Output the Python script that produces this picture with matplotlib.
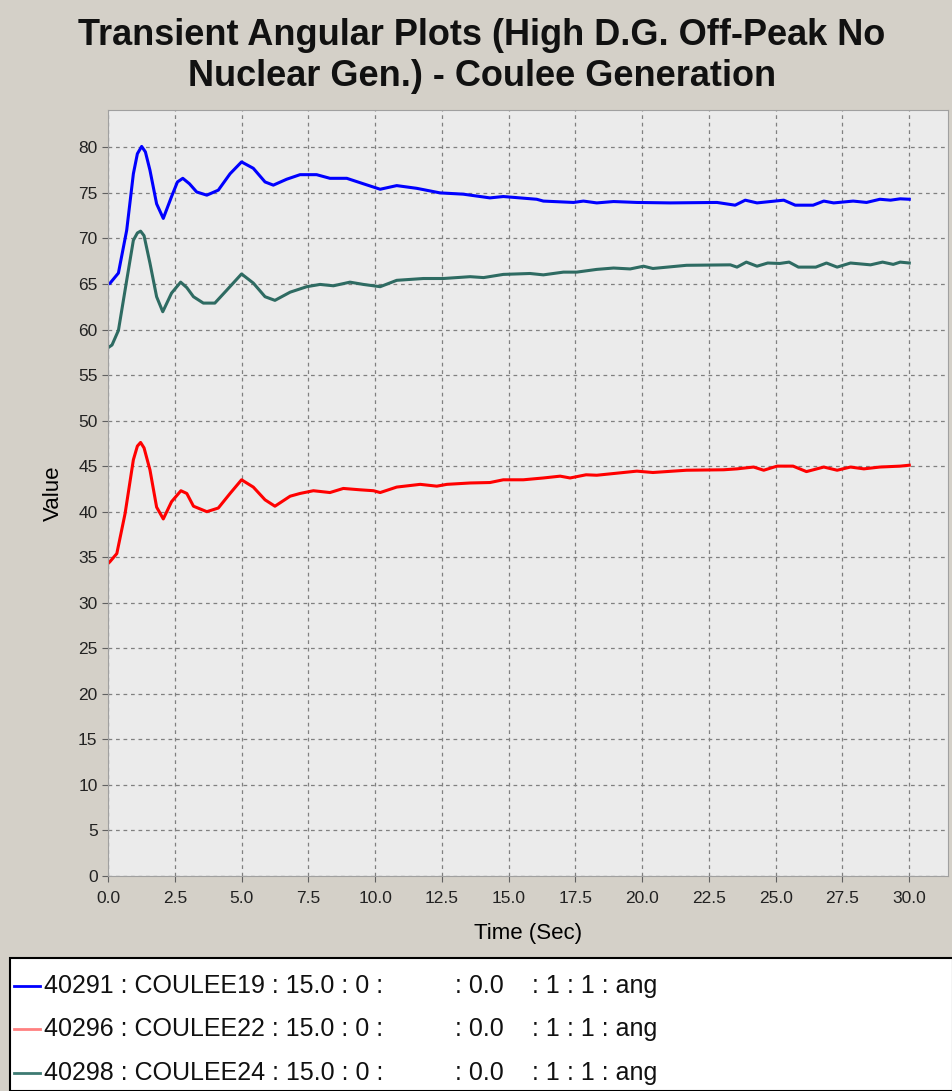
import matplotlib
matplotlib.use("Agg")
import matplotlib.pyplot as plt
from matplotlib.patches import Rectangle
from matplotlib.lines import Line2D

title = "Transient Angular Plots (High D.G. Off-Peak No\nNuclear Gen.) - Coulee Generation"
x_label = "Time (Sec)"
y_label = "Value"

t_blue = [0, 0.07, 0.39, 0.70, 0.95, 1.1, 1.26, 1.4, 1.57, 1.82, 2.07, 2.38, 2.6, 2.80, 3.05, 3.32, 3.70, 4.13,
          4.57, 5.0, 5.44, 5.88, 6.19, 6.69, 7.19, 7.81, 8.31, 8.94, 9.56, 10.19, 10.81, 11.56, 12.43,
          13.3, 14.3, 14.8, 16.05, 16.3, 17.43, 17.8, 18.3, 18.93, 19.8, 21.05, 22.8, 23.48, 23.86,
          24.3, 24.8, 25.3, 25.73, 26.4, 26.8, 27.17, 27.9, 28.4, 28.9, 29.3, 29.66, 30.0]
v_blue = [65.0, 65.06, 66.2, 70.9, 77.1, 79.3, 80.1, 79.5, 77.5, 73.8, 72.2, 74.6, 76.2, 76.6, 76.0, 75.1, 74.75, 75.3,
          77.1, 78.4, 77.7, 76.2, 75.85, 76.5, 77.0, 77.0, 76.6, 76.6, 76.0, 75.4, 75.8, 75.5, 75.0,
          74.86, 74.45, 74.6, 74.3, 74.1, 73.95, 74.1, 73.9, 74.05, 73.95, 73.9, 73.95, 73.65, 74.2,
          73.9, 74.05, 74.2, 73.65, 73.65, 74.1, 73.9, 74.1, 73.95, 74.3, 74.2, 74.35, 74.3]

t_green = [0, 0.15, 0.39, 0.70, 0.95, 1.1, 1.22, 1.35, 1.57, 1.82, 2.05, 2.38, 2.72, 2.95, 3.2, 3.57, 4.0, 4.44,
           5.0, 5.44, 5.88, 6.25, 6.82, 7.44, 7.94, 8.44, 9.06, 9.56, 10.19, 10.81, 11.81, 12.56, 13.56,
           14.06, 14.8, 15.8, 16.3, 17.05, 17.55, 18.3, 18.93, 19.55, 20.05, 20.4, 21.66, 23.3, 23.55,
           23.9, 24.3, 24.7, 25.15, 25.5, 25.85, 26.5, 26.9, 27.3, 27.8, 28.55, 29.0, 29.4, 29.66, 30.0]
v_green = [58.0, 58.3, 59.9, 65.4, 69.8, 70.6, 70.8, 70.3, 67.3, 63.6, 61.95, 64.0, 65.2, 64.6, 63.6, 62.9, 62.9, 64.3,
           66.1, 65.1, 63.6, 63.2, 64.1, 64.7, 64.95, 64.8, 65.2, 64.95, 64.7, 65.4, 65.6, 65.6, 65.8,
           65.7, 66.05, 66.15, 66.0, 66.3, 66.3, 66.6, 66.75, 66.65, 66.95, 66.7, 67.05, 67.1, 66.85,
           67.4, 66.95, 67.3, 67.25, 67.4, 66.85, 66.85, 67.3, 66.85, 67.3, 67.1, 67.4, 67.15, 67.4, 67.3]

t_red = [0, 0.07, 0.33, 0.64, 0.95, 1.1, 1.22, 1.35, 1.57, 1.82, 2.07, 2.38, 2.73, 2.95, 3.2, 3.7, 4.13, 4.57,
         5.0, 5.44, 5.88, 6.25, 6.82, 7.19, 7.69, 8.31, 8.81, 9.44, 9.94, 10.19, 10.81, 11.69, 12.31,
         12.69, 13.56, 14.3, 14.8, 15.55, 16.3, 16.93, 17.3, 17.9, 18.3, 18.8, 19.8, 20.4, 21.66, 23.05,
         23.55, 24.17, 24.55, 25.05, 25.65, 26.15, 26.8, 27.3, 27.8, 28.3, 28.9, 29.66, 30.0]
v_red = [34.3, 34.5, 35.4, 39.8, 45.7, 47.2, 47.6, 47.0, 44.6, 40.5, 39.2, 41.1, 42.3, 42.0, 40.6, 40.0, 40.4, 42.0,
         43.5, 42.7, 41.3, 40.6, 41.7, 42.0, 42.3, 42.1, 42.55, 42.4, 42.3, 42.1, 42.7, 43.0, 42.8,
         43.0, 43.15, 43.2, 43.5, 43.5, 43.7, 43.9, 43.7, 44.05, 44.0, 44.15, 44.45, 44.3, 44.55, 44.6,
         44.7, 44.9, 44.55, 45.0, 45.0, 44.4, 44.9, 44.55, 44.9, 44.7, 44.9, 45.0, 45.1]

legend_ids = ["40291 : COULEE19 : 15.0 : 0 :", "40296 : COULEE22 : 15.0 : 0 :", "40298 : COULEE24 : 15.0 : 0 :"]
legend_tail = [": 0.0", ": 1", ": 1 : ang"]

x_ticks = [0.0, 2.5, 5.0, 7.5, 10.0, 12.5, 15.0, 17.5, 20.0, 22.5, 25.0, 27.5, 30.0]
y_ticks = list(range(0, 85, 5))

plt.rcParams['font.family'] = ['Liberation Sans', 'DejaVu Sans']

W, H = 953, 1091
fig = plt.figure(figsize=(W / 100, H / 100), dpi=100, facecolor="#d4d0c8")
ax = fig.add_axes([108 / W, 1 - 876 / H, (948 - 108) / W, (876 - 110) / H])
ax.set_facecolor("#ebebeb")

c_blue, c_red, c_green = "#0000ff", "#ff0000", "#2e6b62"
ax.plot(t_blue, v_blue, color=c_blue, lw=2.2, solid_joinstyle="round")
ax.plot(t_green, v_green, color=c_green, lw=2.2, solid_joinstyle="round")
ax.plot(t_red, v_red, color=c_red, lw=2.2, solid_joinstyle="round")

ax.set_xlim(0, 31.45)
ax.set_ylim(0, 84.1)
ax.set_xticks(x_ticks)
ax.set_xticklabels([f"{v:.1f}" for v in x_ticks], fontsize=12.5)
ax.set_yticks(y_ticks)
ax.set_yticklabels([str(v) for v in y_ticks], fontsize=12.5)
ax.grid(True, color="#808080", ls=(0, (3, 3)), lw=0.9)
ax.set_axisbelow(True)
for s in ax.spines.values():
    s.set_color("#a0a0a0")
ax.tick_params(colors="#606060", labelcolor="#222222", length=4)
ax.tick_params(axis="x", pad=7)
ax.set_xlabel(x_label, fontsize=16, labelpad=12)
ax.set_ylabel(y_label, fontsize=16, labelpad=10)

fig.text(482 / W, 1 - 56 / H, title, ha="center", va="center", fontsize=26, fontweight="bold",
         linespacing=1.2, color="#111111")

# legend box
fig.patches.append(Rectangle((10 / W, 0), (W - 10) / W, (1091 - 958) / H, transform=fig.transFigure,
                             facecolor="white", edgecolor="black", lw=1.5))
leg_colors = ["#0000ff", "#ff8080", "#3d7a72"]
rows_y = [986, 1029, 1073]
for i in range(3):
    yy = 1 - rows_y[i] / H
    fig.lines.append(Line2D([14 / W, 40 / W], [yy, yy], transform=fig.transFigure, color=leg_colors[i], lw=2))
    fig.text(44 / W, yy, legend_ids[i], fontsize=18, va="center", color="#111111")
    fig.text(455 / W, yy, legend_tail[0], fontsize=18, va="center", color="#111111")
    fig.text(532 / W, yy, legend_tail[1], fontsize=18, va="center", color="#111111")
    fig.text(567 / W, yy, legend_tail[2], fontsize=18, va="center", color="#111111")

fig.savefig("out.png", dpi=100, facecolor=fig.get_facecolor())
